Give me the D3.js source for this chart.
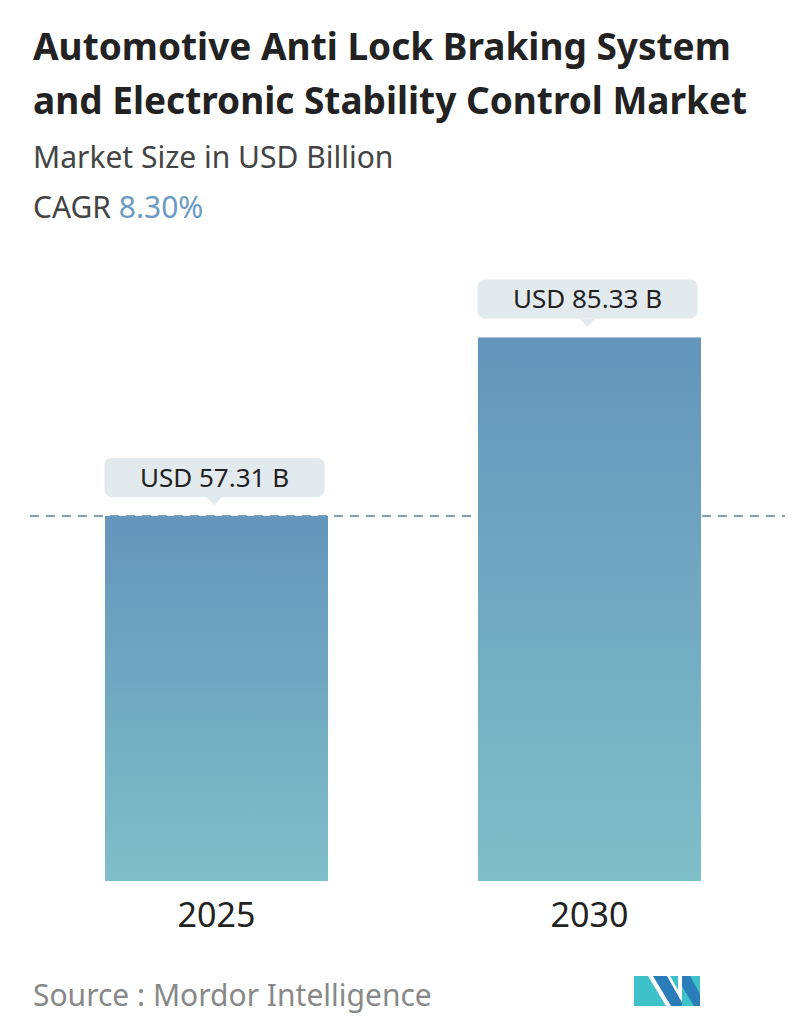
<!DOCTYPE html>
<html><head><meta charset="utf-8">
<script src="https://cdn.jsdelivr.net/npm/d3@7"></script>
<style>body{margin:0;background:#fff}text{font-family:"Noto Sans","Open Sans",sans-serif}</style>
</head><body>
<svg id="c" width="796" height="1034"></svg>
<script>
const categories = ["2025", "2030"];
const values = [57.31, 85.33];
const labels = ["USD 57.31 B", "USD 85.33 B"];
const title = ["Automotive Anti Lock Braking System", "and Electronic Stability Control Market"];
const subtitle = "Market Size in USD Billion";
const cagr = "8.30%";

const svg = d3.select("#c");
const defs = svg.append("defs");
const g = defs.append("linearGradient").attr("id","bg").attr("x1",0).attr("y1",0).attr("x2",0).attr("y2",1);
g.append("stop").attr("offset","0%").attr("stop-color","#6495bb");
g.append("stop").attr("offset","100%").attr("stop-color","#7fbfc8");

svg.selectAll("text.t").data(title).join("text").attr("x",33).attr("y",(d,i)=>60+i*54)
  .attr("font-size",37).attr("font-weight",700).attr("fill","#222").text(d=>d);
svg.append("text").attr("x",33).attr("y",168).attr("font-size",30).attr("fill","#444").text(subtitle);
const ct = svg.append("text").attr("x",33).attr("y",218).attr("font-size",30).attr("fill","#444");
ct.append("tspan").text("CAGR ");
ct.append("tspan").attr("fill","#6a9ac4").text(cagr);

const x = d3.scaleBand().domain(categories).range([105,701]).paddingInner(0.402).paddingOuter(0);
const y = d3.scaleLinear().domain([0,100]).range([881,881-637]);

svg.append("line").attr("x1",30).attr("x2",785).attr("y1",y(values[0])).attr("y2",y(values[0]))
  .attr("stroke","#5a84a6").attr("stroke-width",1.5).attr("stroke-dasharray","9,7");

svg.selectAll("rect.b").data(values).join("rect").attr("class","b")
  .attr("x",(d,i)=>x(categories[i])).attr("width",x.bandwidth())
  .attr("y",d=>y(d)).attr("height",d=>y(0)-y(d)).attr("fill","url(#bg)");

values.forEach((v,i)=>{
  const cx = x(categories[i])+x.bandwidth()/2 - 2;
  const top = y(v)-58;
  const gg = svg.append("g");
  gg.append("rect").attr("x",cx-110).attr("y",top).attr("width",220).attr("height",39).attr("rx",7).attr("fill","#e3eaee");
  gg.append("path").attr("d",`M${cx-8},${top+39}L${cx},${top+47}L${cx+8},${top+39}Z`).attr("fill","#e3eaee");
  gg.append("text").attr("x",cx).attr("y",top+29).attr("text-anchor","middle").attr("font-size",26).attr("fill","#222").text(labels[i]);
  svg.append("text").attr("x",x(categories[i])+x.bandwidth()/2).attr("y",927).attr("text-anchor","middle")
    .attr("font-size",34).attr("fill","#222").text(categories[i]);
});

svg.append("text").attr("x",33).attr("y",1006).attr("font-size",30).attr("fill","#888").text("Source :  Mordor Intelligence");
const L = svg.append("g").attr("transform","translate(634,974)");
L.append("path").attr("d","M0,32L0,2L14,2L32,32Z").attr("fill","#3fc1c9");
L.append("path").attr("d","M19,2L33,2L50,32L37,32Z").attr("fill","#2a7db8");
L.append("path").attr("d","M36,2L44,2L44,16Z").attr("fill","#3fc1c9");
L.append("path").attr("d","M48,2L66,2L66,32L48,32Z").attr("fill","#3fc1c9");
L.append("path").attr("d","M48,2L56,2L66,20L66,32L60,32L48,12Z").attr("fill","#2a7db8");
</script>
</body></html>
